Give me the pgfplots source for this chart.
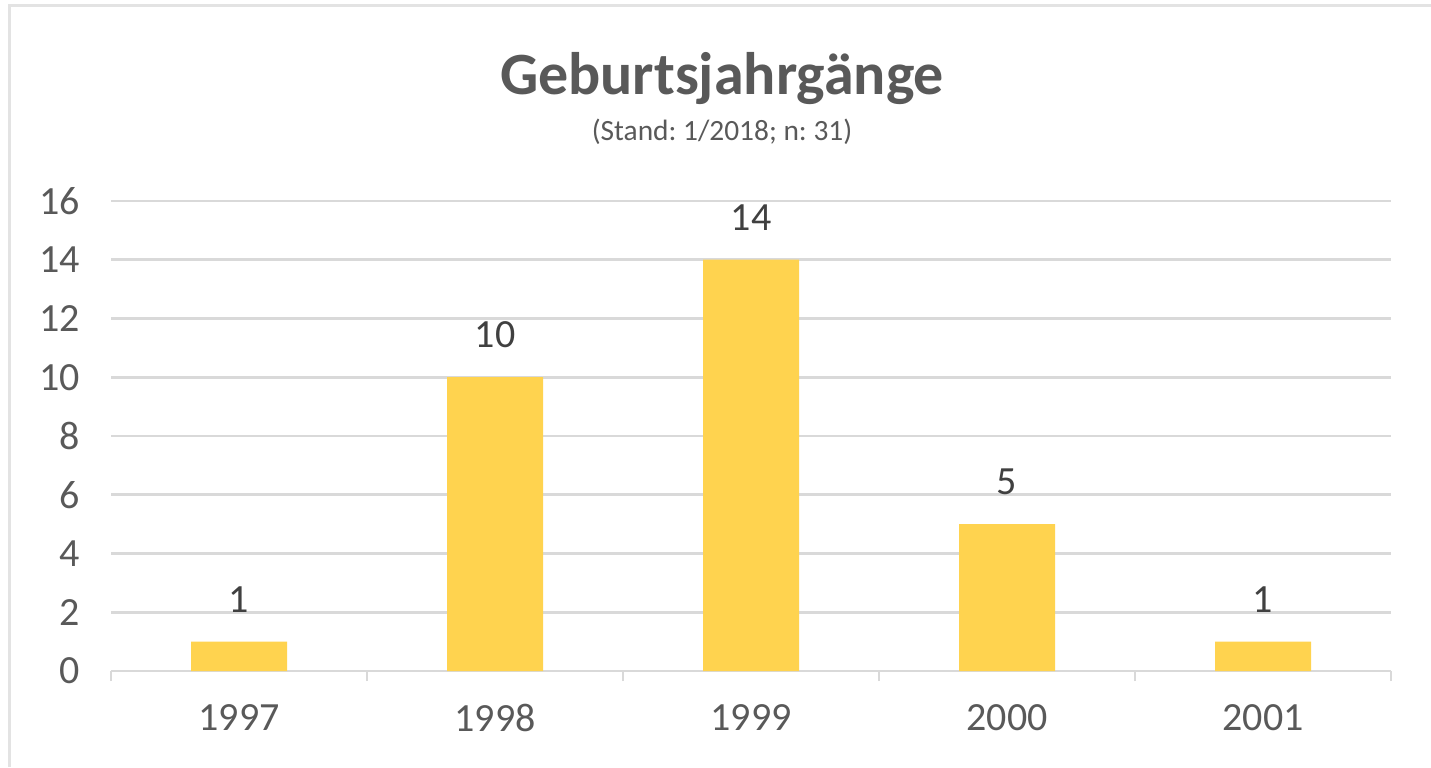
\documentclass[border=0pt]{standalone}
\usepackage{fontspec}
\setmainfont{Carlito}
\usepackage{pgfplots}
\pgfplotsset{compat=1.18}
\definecolor{barcol}{HTML}{FFD34F}
\definecolor{gridcol}{HTML}{D9D9D9}
\definecolor{txtcol}{HTML}{595959}
\definecolor{lblcol}{HTML}{404040}
\frenchspacing
\begin{document}
\begin{tikzpicture}
% 1 px of the reference = 0.5pt
\path[use as bounding box] (0,0) rectangle (715.5pt,383.5pt);
\draw[gray!22, line width=1.5pt] (4.5pt,0) -- (4.5pt,380.5pt) -- (715.5pt,380.5pt);
\node[font=\fontsize{30}{34}\selectfont\bfseries, text=txtcol] at (361pt,344pt) {Geburtsjahrgänge};
\node[font=\fontsize{14.7}{17}\selectfont, text=txtcol] at (361pt,317.5pt) {(Stand: 1/2018; n: 31)};
\begin{axis}[
    at={(55.5pt,48pt)}, anchor=south west,
    scale only axis, width=640pt, height=235pt,
    ybar, bar width=48pt,
    xmin=-0.5, xmax=4.5, ymin=0, ymax=16,
    xtick={0,1,2,3,4}, xticklabels={1997,1998,1999,2000,2001},
    minor xtick={-0.5,0.5,1.5,2.5,3.5,4.5},
    ytick={0,2,...,16},
    axis x line*=bottom, axis y line*=left,
    x axis line style={-, draw=gridcol, line width=1.3pt},
    y axis line style={draw=none},
    major x tick style={draw=none},
    minor x tick style={draw=gridcol, line width=1.3pt},
    minor tick length=5pt,
    xtick align=outside,
    ytick style={draw=none},
    ymajorgrids, grid style={draw=gridcol, line width=1.3pt},
    ticklabel style={font=\fontsize{20}{24}\selectfont, text=txtcol},
    /pgf/number format/assume math mode=true,
    yticklabel style={xshift=-12pt},
    xticklabel style={yshift=-9pt},
    nodes near coords,
    nodes near coords style={font=\fontsize{20}{24}\selectfont, text=lblcol, yshift=11pt},
]
\addplot[fill=barcol, draw=none] coordinates {(0,1) (1,10) (2,14) (3,5) (4,1)};
\end{axis}
\end{tikzpicture}
\end{document}
